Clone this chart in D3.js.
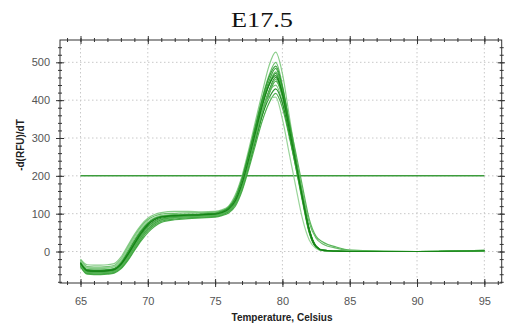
<!DOCTYPE html>
<html>
  <head>
    <meta charset="utf-8">
    <title>E17.5 melt curve</title>
    <script src="https://d3js.org/d3.v7.min.js" charset="utf-8"></script>
    <style>
      body{ margin:0; background:#fff; }
      svg{ display:block; }
    </style>
  </head>
  <body>
    <svg></svg>
    <script>
      //begin: data
      var temps = [65,65.5,66,66.5,67,67.5,68,68.5,69,69.5,70,70.5,71,72,73,74,75,75.5,76,76.5,77,77.5,78,78.5,79,79.5,80,80.5,81,81.5,82,82.5,83,84,85,90,95];

      var well01 = [-20,-35,-36,-36,-35,-32,-15,15,45,70,88,98,103,106,106,105,106,110,120,150,200,270,345,420,490,527,470,360,250,150,60,15,4,1,0,0,1];
      var well02 = [-22,-40,-41,-41,-40,-37,-20,10,40,66,84,94,99,101,102,102,104,108,118,145,195,262,335,405,465,500,440,340,240,140,55,14,3,1,0,0,1];
      var well03 = [-28,-48,-49,-49,-48,-45,-30,-2,28,55,75,88,94,97,98,99,101,106,116,140,188,255,325,395,450,484,425,330,235,140,55,13,3,1,0,0,2];
      var well04 = [-30,-50,-51,-51,-50,-47,-33,-8,22,50,72,85,92,96,97,98,100,104,113,136,182,248,318,388,440,471,418,325,232,138,52,12,3,1,0,0,2];
      var well05 = [-35,-55,-56,-56,-55,-52,-40,-18,10,38,60,75,84,90,92,94,96,100,108,128,170,232,300,370,425,460,415,328,238,145,58,14,3,1,0,0,2];
      var well06 = [-38,-58,-59,-59,-58,-55,-44,-22,5,32,55,70,80,86,89,91,93,97,105,125,165,225,292,360,415,450,410,325,236,143,56,13,3,1,0,0,3];
      var well07 = [-26,-44,-45,-45,-44,-41,-26,3,33,58,76,86,91,94,95,96,98,102,110,132,176,238,305,372,420,440,395,310,222,130,48,11,3,1,0,0,1];
      var well08 = [-32,-52,-53,-53,-52,-49,-36,-12,17,44,66,80,88,92,94,95,97,101,108,128,170,230,295,360,405,430,392,312,226,136,52,12,3,1,0,0,2];
      var well09 = [-40,-60,-61,-61,-60,-57,-46,-25,2,28,50,66,77,84,87,89,91,95,102,120,160,218,282,345,392,418,380,305,222,134,50,12,3,1,0,0,3];
      var well10 = [-24,-42,-43,-43,-42,-39,-22,8,38,62,80,90,95,97,97,97,99,104,114,138,185,248,312,370,405,408,350,260,170,85,30,8,2,1,0,0,1];
      var well11 = [-34,-54,-55,-55,-54,-51,-38,-14,14,42,64,78,86,91,93,95,97,101,109,130,174,240,312,385,440,475,430,345,260,170,85,40,25,12,4,0,2];
      var well12 = [-29,-49,-50,-50,-49,-46,-31,-4,26,53,74,87,93,96,97,98,100,105,115,140,190,258,330,402,460,490,435,340,242,145,56,13,3,1,0,0,2];
      var well13 = [-36,-56,-57,-57,-56,-53,-41,-19,8,36,58,73,82,88,91,93,95,99,107,126,168,230,300,368,420,455,410,325,240,155,75,35,20,9,3,0,2];
      var well14 = [-31,-51,-52,-52,-51,-48,-34,-9,20,48,70,84,91,95,96,97,99,103,112,134,180,245,315,385,440,465,415,325,234,140,54,13,3,1,0,0,2];

      var wells = [well01,well02,well03,well04,well05,well06,well07,well08,well09,well10,well11,well12,well13,well14];
      var wellColors = ["#7cc87c","#5cb85c","#2e9e2e","#1f8f1f","#198a19","#2a9a2a","#6bbf6b","#17861a","#3aa53a","#8fd08f","#4aae4a","#28962a","#56b456","#118011"];

      var threshold = 200;
      var xTicks = [65,70,75,80,85,90,95];
      var yTicks = [0,100,200,300,400,500];
      //end: data

      //begin: layout conf.
      var svgWidth = 505,
          svgHeight = 333,
          plot = {left: 60, right: 501.7, top: 40, bottom: 283};
      //end: layout conf.

      var svg = d3.select("svg")
        .attr("width", svgWidth)
        .attr("height", svgHeight)
        .style("font-family", "Arial, 'Liberation Sans', sans-serif");

      var x = d3.scaleLinear().domain([63.477, 96.29]).range([plot.left, plot.right]);
      var y = d3.scaleLinear().domain([-83.2, 559]).range([plot.bottom, plot.top]);

      // grid
      var grid = svg.append("g").classed("grid", true);
      grid.selectAll(".vgrid").data(xTicks).enter().append("line")
        .attr("x1", function(d){ return x(d); }).attr("x2", function(d){ return x(d); })
        .attr("y1", plot.top).attr("y2", plot.bottom)
        .attr("stroke", "#c8c8c8").attr("stroke-dasharray", "1.5,2.5");
      grid.selectAll(".hgrid").data(yTicks).enter().append("line")
        .attr("x1", plot.left).attr("x2", plot.right)
        .attr("y1", function(d){ return y(d); }).attr("y2", function(d){ return y(d); })
        .attr("stroke", "#c8c8c8").attr("stroke-dasharray", "1.5,2.5");

      // threshold
      svg.append("line")
        .attr("x1", x(65)).attr("x2", x(95))
        .attr("y1", y(threshold)).attr("y2", y(threshold))
        .attr("stroke", "#3c9c3c").attr("stroke-width", 1.5);

      // curves
      var line = d3.line()
        .x(function(d, i){ return x(temps[i]); })
        .y(function(d){ return y(d); })
        .curve(d3.curveMonotoneX);

      svg.append("g").classed("curves", true)
        .selectAll("path").data(wells).enter().append("path")
        .attr("d", line)
        .attr("fill", "none")
        .attr("stroke", function(d, i){ return wellColors[i]; })
        .attr("stroke-width", 1.2)
        .attr("stroke-opacity", 0.9);

      // frame
      svg.append("rect")
        .attr("x", plot.left).attr("y", plot.top)
        .attr("width", plot.right - plot.left).attr("height", plot.bottom - plot.top)
        .attr("fill", "none").attr("stroke", "#333").attr("stroke-width", 1);

      // ticks crossing each side of the frame
      function crossTicks(axisGen, transform, major, horizontal) {
        var g = svg.append("g").attr("transform", transform).call(axisGen);
        g.select(".domain").remove();
        g.selectAll("text").remove();
        var len = major ? 4 : 2;
        g.selectAll(".tick line").attr("stroke", "#333");
        if (horizontal) g.selectAll(".tick line").attr("y1", -len).attr("y2", len);
        else g.selectAll(".tick line").attr("x1", -len).attr("x2", len);
      }
      var xMinor = d3.range(64, 97, 1);
      var yMinor = d3.range(-80, 560, 20);
      [plot.bottom, plot.top].forEach(function(py){
        crossTicks(d3.axisBottom(x).tickValues(xMinor), "translate(0," + py + ")", false, true);
        crossTicks(d3.axisBottom(x).tickValues(xTicks), "translate(0," + py + ")", true, true);
      });
      [plot.left, plot.right].forEach(function(px){
        crossTicks(d3.axisLeft(y).tickValues(yMinor), "translate(" + px + ",0)", false, false);
        crossTicks(d3.axisLeft(y).tickValues(yTicks), "translate(" + px + ",0)", true, false);
      });

      // tick labels
      var xAxis = svg.append("g")
        .attr("transform", "translate(0," + plot.bottom + ")")
        .call(d3.axisBottom(x).tickValues(xTicks).tickSize(0).tickPadding(14));
      xAxis.select(".domain").remove();
      xAxis.selectAll("text").attr("font-size", 11).attr("fill", "#555").style("font-family", "Arial, 'Liberation Sans', sans-serif");

      var yAxis = svg.append("g")
        .attr("transform", "translate(" + plot.left + ",0)")
        .call(d3.axisLeft(y).tickValues(yTicks).tickSize(0).tickPadding(10));
      yAxis.select(".domain").remove();
      yAxis.selectAll("text").attr("font-size", 11).attr("fill", "#555").style("font-family", "Arial, 'Liberation Sans', sans-serif");

      // titles
      svg.append("text")
        .attr("x", 262).attr("y", 27)
        .attr("text-anchor", "middle")
        .style("font-family", "'Liberation Serif', 'Times New Roman', serif")
        .attr("font-size", 21)
        .attr("textLength", 62).attr("lengthAdjust", "spacingAndGlyphs")
        .attr("fill", "#111")
        .text("E17.5");

      svg.append("text")
        .attr("x", 282).attr("y", 321)
        .attr("text-anchor", "middle")
        .attr("font-size", 10).attr("font-weight", "bold")
        .attr("fill", "#222")
        .text("Temperature, Celsius");

      svg.append("text")
        .attr("transform", "translate(24,145) rotate(-90)")
        .attr("text-anchor", "middle")
        .attr("font-size", 10).attr("font-weight", "bold")
        .attr("fill", "#222")
        .text("-d(RFU)/dT");
    </script>
  </body>
</html>
